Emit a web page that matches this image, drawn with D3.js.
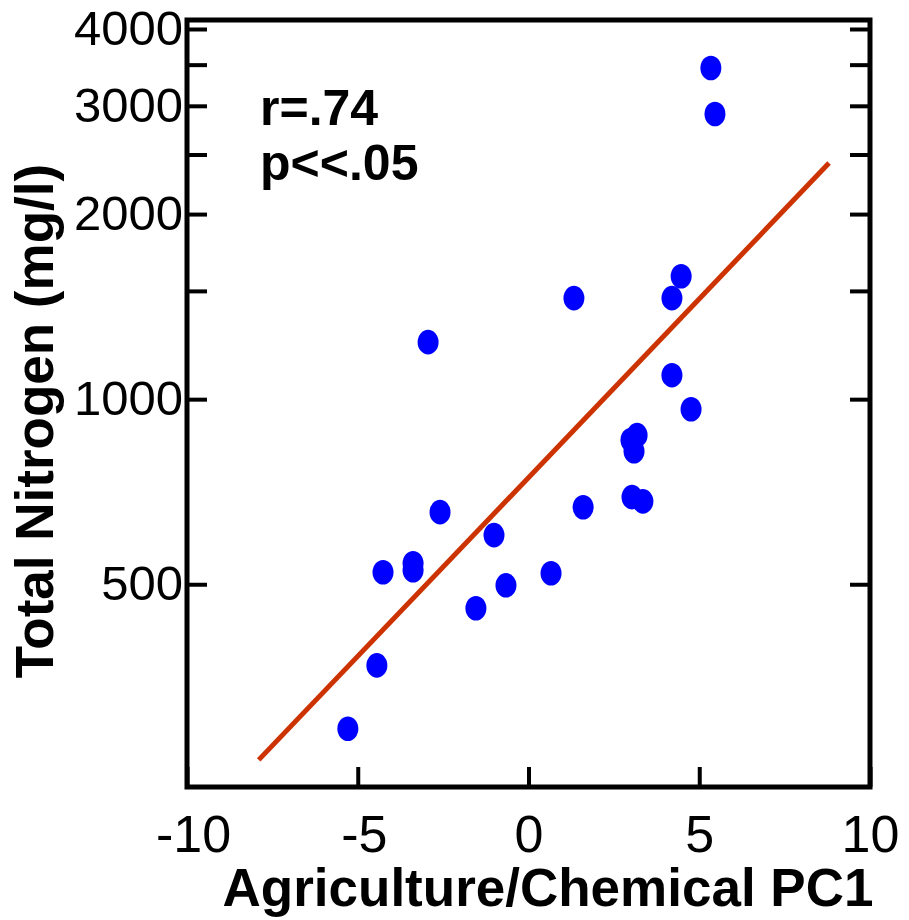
<!DOCTYPE html>
<html>
<head>
<meta charset="utf-8">
<script src="https://cdn.jsdelivr.net/npm/d3@7"></script>
<style>
  body { margin: 0; background: #fff; }
  svg text { font-family: "Liberation Sans", Arial, sans-serif; }
</style>
</head>
<body>
<script>
// PC1 score and total nitrogen for each site
var pc1 = [5.34, 5.46, 4.47, 4.20, 1.33, -2.94, 4.20, 4.76, 3.00, 3.18, 3.09, 3.03,
    3.35, 1.60, -2.59, -1.01, -3.38, -3.38, -4.26, 0.66, -0.66, -1.54, -4.44, -5.29];
var nitrogen = [3456, 2909, 1585, 1460, 1460, 1238, 1094, 963, 858, 874, 823, 693,
    682, 667, 655, 601, 541, 527, 523, 521, 498, 457, 369, 291];

// fitted line endpoints
var fitX = [-7.9, 8.8];
var fitY = [259, 2421];

var xTicks = [-10, -5, 0, 5, 10];
var yTicks = [500, 1000, 1500, 2000, 2500, 3000, 3500, 4000];
var yLabels = [500, 1000, 2000, 3000, 4000];

var statLines = ['r=.74', 'p<<.05'];

var width = 909, height = 920;
var plotLeft = 187, plotRight = 870, plotTop = 20, plotBottom = 787;

var svg = d3.select('body').append('svg')
    .attr('width', width)
    .attr('height', height);

var x = d3.scaleLinear().domain([-10, 10]).range([plotLeft, plotRight]);
var y = d3.scaleLog().domain([234, 4137]).range([plotBottom, plotTop]);

// left axis, ticks pointing inward
var yAxis = svg.append('g')
    .attr('transform', 'translate(' + plotLeft + ',0)')
    .call(d3.axisLeft(y).tickValues(yTicks).tickSize(-20).tickPadding(4)
        .tickFormat(function (d) { return yLabels.indexOf(d) >= 0 ? String(d) : ''; }));
yAxis.select('.domain').remove();
yAxis.selectAll('line').attr('stroke', '#000').attr('stroke-width', 4);
yAxis.selectAll('text').attr('font-size', 49).attr('fill', '#000')
    .attr('font-family', '"Liberation Sans", Arial, sans-serif');

// right axis, ticks only
var yAxisR = svg.append('g')
    .attr('transform', 'translate(' + plotRight + ',0)')
    .call(d3.axisRight(y).tickValues(yTicks).tickSize(-20).tickFormat(''));
yAxisR.select('.domain').remove();
yAxisR.selectAll('line').attr('stroke', '#000').attr('stroke-width', 4);

// bottom axis
var xAxis = svg.append('g')
    .attr('transform', 'translate(0,' + plotBottom + ')')
    .call(d3.axisBottom(x).tickValues(xTicks).tickSize(-20).tickPadding(28)
        .tickFormat(function (d) { return String(d); }));
xAxis.select('.domain').remove();
xAxis.selectAll('line').attr('stroke', '#000').attr('stroke-width', 4);
xAxis.selectAll('text').attr('font-size', 52).attr('fill', '#000')
    .attr('font-family', '"Liberation Sans", Arial, sans-serif')
    .attr('dx', function (d) { return d < 0 ? 6 : 0; });

// frame
svg.append('rect')
    .attr('x', plotLeft)
    .attr('y', plotTop)
    .attr('width', plotRight - plotLeft)
    .attr('height', plotBottom - plotTop)
    .attr('fill', 'none')
    .attr('stroke', '#000')
    .attr('stroke-width', 5);

// regression line
svg.append('line')
    .attr('x1', x(fitX[0])).attr('y1', y(fitY[0]))
    .attr('x2', x(fitX[1])).attr('y2', y(fitY[1]))
    .attr('stroke', '#cc3300')
    .attr('stroke-width', 5);

// points
svg.selectAll('.pt')
    .data(pc1)
    .enter()
    .append('ellipse')
    .attr('class', 'pt')
    .attr('cx', function (d) { return x(d); })
    .attr('cy', function (d, i) { return y(nitrogen[i]); })
    .attr('rx', 10.5)
    .attr('ry', 12.3)
    .attr('fill', '#0000ff');

// stats
svg.selectAll('.stat')
    .data(statLines)
    .enter()
    .append('text')
    .attr('class', 'stat')
    .attr('x', 260)
    .attr('y', function (d, i) { return 125 + i * 55; })
    .attr('font-size', 50)
    .attr('font-weight', 'bold')
    .text(function (d) { return d; });

// axis titles
svg.append('text')
    .attr('x', 548)
    .attr('y', 906)
    .attr('text-anchor', 'middle')
    .attr('font-size', 53)
    .attr('font-weight', 'bold')
    .text('Agriculture/Chemical PC1');

svg.append('text')
    .attr('transform', 'translate(53,421) rotate(-90)')
    .attr('text-anchor', 'middle')
    .attr('font-size', 53)
    .attr('font-weight', 'bold')
    .text('Total Nitrogen (mg/l)');
</script>
</body>
</html>
